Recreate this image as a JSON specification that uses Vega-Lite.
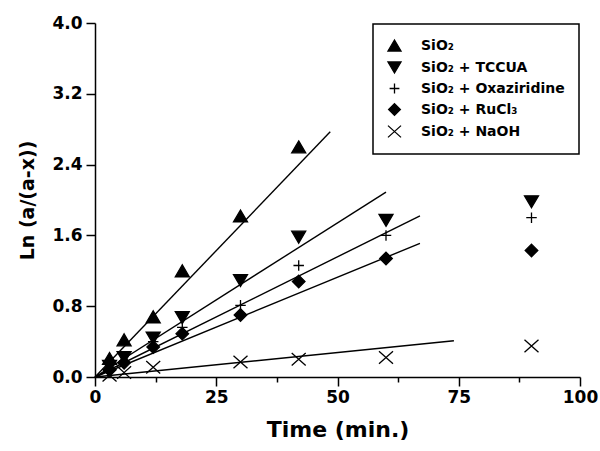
{
  "$schema": "https://vega.github.io/schema/vega-lite/v6.json",
  "width": 485,
  "height": 354,
  "autosize": "none",
  "padding": {"left": 95, "top": 23, "right": 20, "bottom": 74},
  "background": "white",
  "config": {
    "view": {"stroke": null},
    "axis": {
      "grid": false,
      "domainColor": "black",
      "domainWidth": 1.5,
      "tickColor": "black",
      "tickWidth": 1.5,
      "labelColor": "black",
      "labelFont": "DejaVu Sans",
      "labelFontWeight": 900,
      "labelFontSize": 17,
      "titleColor": "black",
      "titleFont": "DejaVu Sans",
      "titleFontWeight": 900,
      "titleFontSize": 22
    },
    "legend": {
      "labelFont": "DejaVu Sans",
      "labelFontWeight": "bold",
      "labelFontSize": 14,
      "labelColor": "black",
      "strokeColor": "black",
      "strokeWidth": 1.5,
      "fillColor": "white",
      "padding": 14,
      "rowPadding": 5,
      "symbolOffset": 0,
      "labelOffset": 19,
      "symbolSize": 170,
      "symbolStrokeColor": "black",
      "symbolStrokeWidth": 1.3,
      "labelLimit": 300
    }
  },
  "datasets": {
    "points": [
      {"series": "SiO₂", "time": 3, "value": 0.21},
      {"series": "SiO₂", "time": 6, "value": 0.42},
      {"series": "SiO₂", "time": 12, "value": 0.68},
      {"series": "SiO₂", "time": 18, "value": 1.2},
      {"series": "SiO₂", "time": 30, "value": 1.82},
      {"series": "SiO₂", "time": 42, "value": 2.6},
      {"series": "SiO₂ + TCCUA", "time": 3, "value": 0.12},
      {"series": "SiO₂ + TCCUA", "time": 6, "value": 0.22},
      {"series": "SiO₂ + TCCUA", "time": 12, "value": 0.44},
      {"series": "SiO₂ + TCCUA", "time": 18, "value": 0.67},
      {"series": "SiO₂ + TCCUA", "time": 30, "value": 1.09},
      {"series": "SiO₂ + TCCUA", "time": 42, "value": 1.58},
      {"series": "SiO₂ + TCCUA", "time": 60, "value": 1.77},
      {"series": "SiO₂ + TCCUA", "time": 90, "value": 1.98},
      {"series": "SiO₂ + Oxaziridine", "time": 3, "value": 0.1},
      {"series": "SiO₂ + Oxaziridine", "time": 6, "value": 0.18},
      {"series": "SiO₂ + Oxaziridine", "time": 12, "value": 0.4},
      {"series": "SiO₂ + Oxaziridine", "time": 18, "value": 0.56},
      {"series": "SiO₂ + Oxaziridine", "time": 30, "value": 0.81},
      {"series": "SiO₂ + Oxaziridine", "time": 42, "value": 1.26},
      {"series": "SiO₂ + Oxaziridine", "time": 60, "value": 1.6},
      {"series": "SiO₂ + Oxaziridine", "time": 90, "value": 1.8},
      {"series": "SiO₂ + RuCl₃", "time": 3, "value": 0.08},
      {"series": "SiO₂ + RuCl₃", "time": 6, "value": 0.16},
      {"series": "SiO₂ + RuCl₃", "time": 12, "value": 0.34},
      {"series": "SiO₂ + RuCl₃", "time": 18, "value": 0.49},
      {"series": "SiO₂ + RuCl₃", "time": 30, "value": 0.7},
      {"series": "SiO₂ + RuCl₃", "time": 42, "value": 1.08},
      {"series": "SiO₂ + RuCl₃", "time": 60, "value": 1.34},
      {"series": "SiO₂ + RuCl₃", "time": 90, "value": 1.43},
      {"series": "SiO₂ + NaOH", "time": 3, "value": 0.02},
      {"series": "SiO₂ + NaOH", "time": 6, "value": 0.05},
      {"series": "SiO₂ + NaOH", "time": 12, "value": 0.11},
      {"series": "SiO₂ + NaOH", "time": 30, "value": 0.17},
      {"series": "SiO₂ + NaOH", "time": 42, "value": 0.2},
      {"series": "SiO₂ + NaOH", "time": 60, "value": 0.22},
      {"series": "SiO₂ + NaOH", "time": 90, "value": 0.35}
    ],
    "fits": [
      {"series": "SiO₂", "time": 0, "value": 0},
      {"series": "SiO₂", "time": 48.5, "value": 2.77},
      {"series": "SiO₂ + TCCUA", "time": 0, "value": 0},
      {"series": "SiO₂ + TCCUA", "time": 60, "value": 2.09},
      {"series": "SiO₂ + Oxaziridine", "time": 0, "value": 0},
      {"series": "SiO₂ + Oxaziridine", "time": 67, "value": 1.82},
      {"series": "SiO₂ + RuCl₃", "time": 0, "value": 0},
      {"series": "SiO₂ + RuCl₃", "time": 67, "value": 1.51},
      {"series": "SiO₂ + NaOH", "time": 0, "value": 0},
      {"series": "SiO₂ + NaOH", "time": 74, "value": 0.41}
    ]
  },
  "layer": [
    {
      "data": {"name": "fits"},
      "mark": {"type": "line", "color": "black", "strokeWidth": 1.4},
      "encoding": {
        "x": {
          "field": "time", "type": "quantitative",
          "scale": {"domain": [0, 100], "nice": false, "zero": false},
          "axis": {
            "title": "Time (min.)",
            "values": [0, 12.5, 25, 37.5, 50, 62.5, 75, 87.5, 100],
            "labelExpr": "datum.value % 25 === 0 ? datum.label : ''",
            "tickSize": {"condition": {"test": "datum.value % 25 === 0", "value": 9}, "value": 5},
            "labelPadding": 3,
            "titlePadding": 14,
            "labelFlush": false,
            "labelOverlap": false
          }
        },
        "y": {
          "field": "value", "type": "quantitative",
          "scale": {"domain": [0, 4], "nice": false, "zero": false},
          "axis": {
            "title": "Ln (a/(a-x))",
            "titleFontSize": 19,
            "values": [0, 0.4, 0.8, 1.2, 1.6, 2.0, 2.4, 2.8, 3.2, 3.6, 4.0],
            "format": ".1f",
            "labelExpr": "round(datum.value * 10) % 8 === 0 ? datum.label : ''",
            "tickSize": {"condition": {"test": "round(datum.value * 10) % 8 === 0", "value": 9}, "value": 5},
            "labelPadding": 4,
            "titlePadding": 14,
            "labelFlush": false,
            "labelOverlap": false
          }
        },
        "detail": {"field": "series"}
      }
    },
    {
      "data": {"name": "points"},
      "mark": {"type": "point", "opacity": 1, "strokeWidth": 1.3, "size": 196},
      "encoding": {
        "x": {"field": "time", "type": "quantitative"},
        "y": {"field": "value", "type": "quantitative"},
        "shape": {
          "field": "series", "type": "nominal",
          "scale": {
            "domain": ["SiO₂", "SiO₂ + TCCUA", "SiO₂ + Oxaziridine", "SiO₂ + RuCl₃", "SiO₂ + NaOH"],
            "range": ["M0,-0.85L1,0.85L-1,0.85Z", "M0,0.85L1,-0.85L-1,-0.85Z", "M-0.75,0H0.75M0,-0.75V0.75", "M0,-0.9L0.9,0L0,0.9L-0.9,0Z", "M-1,-0.9L1,0.9M-1,0.9L1,-0.9"]
          },
          "legend": {"title": null, "orient": "top-right", "offset": 1}
        },
        "fill": {
          "field": "series", "type": "nominal",
          "scale": {
            "domain": ["SiO₂", "SiO₂ + TCCUA", "SiO₂ + Oxaziridine", "SiO₂ + RuCl₃", "SiO₂ + NaOH"],
            "range": ["black", "black", "transparent", "black", "transparent"]
          },
          "legend": {"title": null, "orient": "top-right", "offset": 1}
        },
        "stroke": {
          "field": "series", "type": "nominal",
          "scale": {
            "domain": ["SiO₂", "SiO₂ + TCCUA", "SiO₂ + Oxaziridine", "SiO₂ + RuCl₃", "SiO₂ + NaOH"],
            "range": ["black", "black", "black", "black", "black"]
          },
          "legend": {"title": null, "orient": "top-right", "offset": 1}
        }
      }
    },
    {
      "mark": {"type": "rule", "color": "black", "strokeWidth": 1.5},
      "encoding": {"x": {"datum": 100}}
    }
  ]
}
